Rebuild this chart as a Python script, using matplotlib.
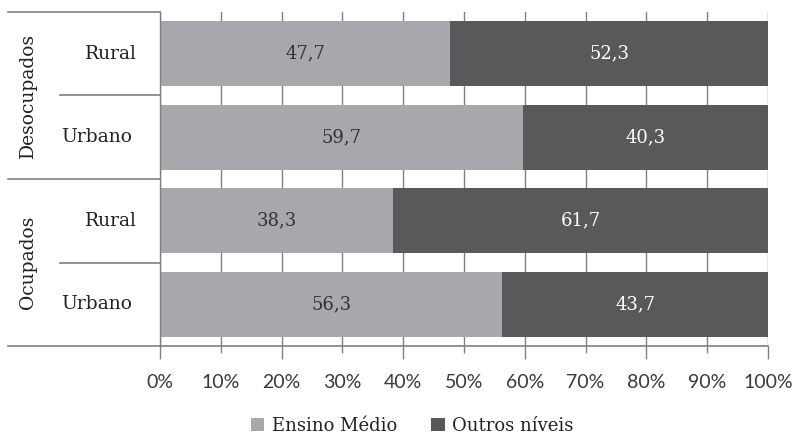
import matplotlib
matplotlib.use("Agg")
import matplotlib.pyplot as plt
from matplotlib.patches import Patch

# dados
grupos = ["Desocupados", "Ocupados"]
categorias = ["Rural", "Urbano", "Rural", "Urbano"]
ensino_medio = [47.7, 59.7, 38.3, 56.3]
outros_niveis = [52.3, 40.3, 61.7, 43.7]
ticks_x = [0, 10, 20, 30, 40, 50, 60, 70, 80, 90, 100]

cor_em = "#a7a8ab"
cor_outros = "#58595b"
cor_linha = "#808080"
serif = "DejaVu Serif"

fig = plt.figure(figsize=(7.95, 4.36), dpi=100)
ax = fig.add_axes([160 / 795, 1 - 346 / 436, 608 / 795, 334 / 436])

y = list(range(len(categorias)))
ax.barh(y, ensino_medio, height=0.78, color=cor_em, zorder=2)
ax.barh(y, outros_niveis, left=ensino_medio, height=0.78, color=cor_outros, zorder=2)

for i in y:
    ax.text(ensino_medio[i] / 2, i, f"{ensino_medio[i]:.1f}".replace(".", ","),
            ha="center", va="center", fontsize=13, family=serif, color="#333333", zorder=3)
    ax.text(ensino_medio[i] + outros_niveis[i] / 2, i, f"{outros_niveis[i]:.1f}".replace(".", ","),
            ha="center", va="center", fontsize=13, family=serif, color="white", zorder=3)

ax.set_xlim(0, 100)
ax.set_ylim(3.5, -0.5)
ax.set_xticks(ticks_x)
ax.set_xticklabels([f"{t}%" for t in ticks_x], family="Lato", fontsize=14, color="#3a3a3a")
ax.set_yticks([])
ax.grid(axis="x", color=cor_linha, linewidth=1.0, zorder=0)
ax.tick_params(axis="x", direction="out", length=9, width=1.0, color=cor_linha, pad=11)
for t, tick in zip(ticks_x, ax.xaxis.get_major_ticks()):
    tick.tick1line.set_markersize(9 if t % 20 == 0 else 5)

for s in ["top", "right", "bottom"]:
    ax.spines[s].set_visible(False)
ax.spines["left"].set_color(cor_linha)
ax.spines["left"].set_linewidth(1.0)

# linhas separadoras à esquerda
trans = ax.get_yaxis_transform()
x_ext = (8 - 160) / 608
x_int = (60 - 160) / 608
for yy in [-0.5, 1.5]:
    ax.plot([x_ext, 0], [yy, yy], transform=trans, color=cor_linha, lw=1.2, clip_on=False)
ax.plot([x_ext, 1], [3.5, 3.5], transform=trans, color=cor_linha, lw=1.2, clip_on=False)
for yy in [0.5, 2.5]:
    ax.plot([x_int, 0], [yy, yy], transform=trans, color=cor_linha, lw=1.2, clip_on=False)

# rótulos das categorias
pos_cat = {"Rural": (111 - 160) / 608, "Urbano": (97 - 160) / 608}
for i, c in enumerate(categorias):
    ax.text(pos_cat[c], i, c, transform=trans, ha="center", va="center",
            fontsize=13.5, family=serif, color="#222222")

for g, yy in zip(grupos, [0.5, 2.5]):
    ax.text((28 - 160) / 608, yy, g, transform=trans, ha="center", va="center",
            rotation=90, fontsize=13.5, family=serif, color="#222222")

handles = [Patch(facecolor=cor_em, label="Ensino Médio"),
           Patch(facecolor=cor_outros, label="Outros níveis")]
fig.legend(handles=handles, loc="center", bbox_to_anchor=(412 / 795, 1 - 426 / 436),
           ncol=2, frameon=False, prop={"family": serif, "size": 13},
           handlelength=0.75, handleheight=0.75, handletextpad=0.4, columnspacing=1.9,
           labelcolor="#222222")

fig.savefig("out.png", dpi=100)
